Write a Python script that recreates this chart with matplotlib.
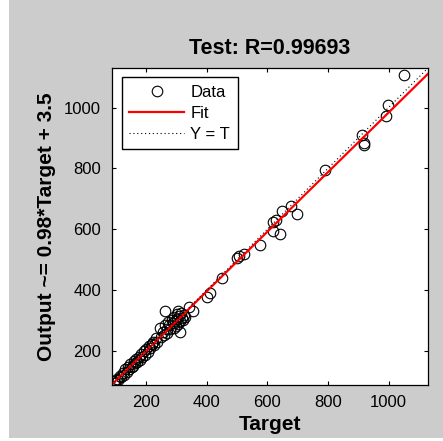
import numpy as np
import matplotlib.pyplot as plt
from matplotlib.patches import Rectangle

# --- values ---
target = [92, 97, 103, 108, 112, 118, 122, 127, 131, 135, 140, 144, 148, 152, 156,
          160, 163, 167, 171, 175, 178, 183, 187, 192, 196, 200, 205, 210, 214, 219,
          220, 223, 227, 232, 236,
          247, 250, 255, 258, 261, 263, 267, 270, 272, 275, 280, 284, 287, 290, 293,
          296, 298, 300, 302, 304, 306, 308, 310, 313, 315, 317, 320, 323, 327, 340, 355,
          399, 410, 451, 500, 506, 524, 574, 618, 620, 629, 643, 648, 677, 697,
          791, 911, 919, 920, 990, 999, 1051]
output = [100, 95, 108, 104, 118, 113, 125, 120, 138, 130, 146, 140, 155, 147, 150,
          165, 158, 172, 163, 180, 170, 190, 179, 200, 187, 205, 196, 215, 208, 222,
          221, 230, 219, 240, 228,
          276, 246, 262, 250, 331, 285, 270, 258, 295, 283, 270, 300, 290, 275, 310,
          298, 282, 320, 305, 288, 330, 315, 296, 260, 325, 308, 300, 318, 312, 342, 331,
          378, 390, 440, 504, 510, 518, 548, 593, 623, 629, 585, 659, 675, 648,
          794, 908, 877, 882, 972, 1007, 1108]

fit_slope = 0.98
fit_offset = 3.5
r_value = 0.99693
axis_lim = (87, 1130)
ticks = [200, 400, 600, 800, 1000]

plt.rcParams['font.family'] = ['Liberation Sans', 'DejaVu Sans']

fig = plt.figure(figsize=(4.43, 4.41), dpi=100, facecolor='white')
fig.add_artist(Rectangle((9 / 443, 3 / 441), 1, 1, transform=fig.transFigure,
                         facecolor='#cccccc', edgecolor='none', zorder=-10))

ax = fig.add_axes([112 / 443, 56 / 441, 316 / 443, 317 / 441])
ax.set_facecolor('white')

ax.plot(target, output, 'o', mfc='none', mec='black', ms=7.6, mew=0.8, label='Data')
xs = np.array(axis_lim)
ax.plot(xs, fit_slope * xs + fit_offset, '-', color='red', lw=1.6, label='Fit')
ax.plot(xs, xs, color='black', lw=0.8, dashes=(1, 2.5), label='Y = T')

ax.set_xlim(axis_lim)
ax.set_ylim(axis_lim)
ax.set_xticks(ticks)
ax.set_yticks(ticks)
ax.tick_params(direction='in', length=3, width=0.8, top=True, right=True,
               labelsize=12, colors='black')
ax.tick_params(axis='x', pad=7)
ax.tick_params(axis='y', pad=8)
for sp in ax.spines.values():
    sp.set_linewidth(0.9)

ax.set_xlabel('Target', fontsize=15, fontweight='bold', labelpad=4)
ax.set_ylabel('Output ~= %.2g*Target + %.2g' % (fit_slope, fit_offset),
              fontsize=15, fontweight='bold', labelpad=6)
ax.set_title('Test: R=%.5f' % r_value, fontsize=15.5, fontweight='bold', pad=10)

leg = ax.legend(loc='upper left', bbox_to_anchor=(0.031, 0.971), borderaxespad=0,
                fontsize=12, numpoints=1, handlelength=3.3, handletextpad=0.36,
                labelspacing=0.36, borderpad=0.45, fancybox=False, framealpha=1)
leg.get_frame().set_edgecolor('black')
leg.get_frame().set_linewidth(1.0)

fig.savefig('out.png', dpi=100, facecolor=fig.get_facecolor())
